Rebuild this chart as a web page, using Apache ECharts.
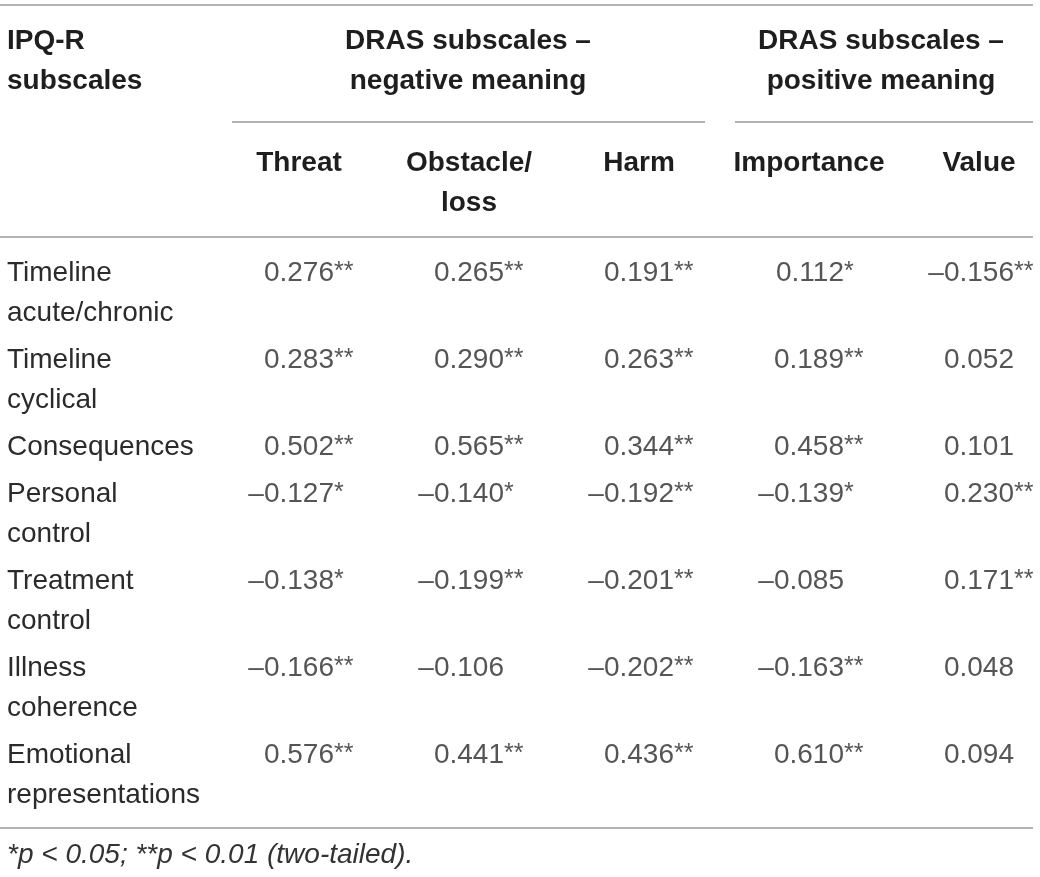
<!DOCTYPE html>
<html>
<head>
<meta charset="utf-8">
<script src="https://cdn.jsdelivr.net/npm/echarts@6/dist/echarts.min.js"></script>
<style>
  html, body { margin: 0; padding: 0; background: #fff; }
  #main { width: 1040px; height: 877px; }
</style>
</head>
<body>
<div id="main"></div>
<script>
// table content
var stubHeader = 'IPQ-R\nsubscales';
var groupHeaders = ['DRAS subscales –\nnegative meaning', 'DRAS subscales –\npositive meaning'];
var columns = ['Threat', 'Obstacle/\nloss', 'Harm', 'Importance', 'Value'];
var rowLabels = ['Timeline\nacute/chronic', 'Timeline\ncyclical', 'Consequences', 'Personal\ncontrol',
    'Treatment\ncontrol', 'Illness\ncoherence', 'Emotional\nrepresentations'];

var threat = [0.276, 0.283, 0.502, -0.127, -0.138, -0.166, 0.576];
var threatSig = ['**', '**', '**', '*', '*', '**', '**'];
var obstacle = [0.265, 0.290, 0.565, -0.140, -0.199, -0.106, 0.441];
var obstacleSig = ['**', '**', '**', '*', '**', '', '**'];
var harm = [0.191, 0.263, 0.344, -0.192, -0.201, -0.202, 0.436];
var harmSig = ['**', '**', '**', '**', '**', '**', '**'];
var importance = [0.112, 0.189, 0.458, -0.139, -0.085, -0.163, 0.610];
var importanceSig = ['*', '**', '**', '*', '', '**', '**'];
var valueCol = [-0.156, 0.052, 0.101, 0.230, 0.171, 0.048, 0.094];
var valueSig = ['**', '', '', '**', '**', '', ''];

var note = '*p < 0.05; **p < 0.01 (two-tailed).';

var cols = [threat, obstacle, harm, importance, valueCol];
var sigs = [threatSig, obstacleSig, harmSig, importanceSig, valueSig];

// row positions in "line" units: each text line = 1, small gap between rows
var ROW_GAP = 0.175, TOP_PAD = 0.4, BOTTOM_PAD = 0.325;
var rowStart = [];
var pos = TOP_PAD;
rowLabels.forEach(function(r, i) {
    rowStart.push(pos);
    pos += r.split('\n').length + (i < rowLabels.length - 1 ? ROW_GAP : 0);
});
var yMax = pos + BOTTOM_PAD;

function fmt(v) {
    return (v < 0 ? '–' : '') + Math.abs(v).toFixed(3);
}

var numData = [], sigData = [];
cols.forEach(function(c, ci) {
    c.forEach(function(v, ri) {
        numData.push([ci, rowStart[ri], fmt(v)]);
        if (sigs[ci][ri]) sigData.push([ci, rowStart[ri], sigs[ci][ri]]);
    });
});

var FONT = '"Helvetica Neue", Helvetica, "Liberation Sans", Arial, sans-serif';
var TXT = '#2b2b2b';
var RULE = '#9a9a9a';

var myChart = echarts.init(document.getElementById('main'));

var option = {
    backgroundColor: '#fff',
    animation: false,
    grid: { left: 214, top: 237, width: 850, height: 591, outerBoundsMode: 'none', containLabel: false },
    xAxis: {
        type: 'category',
        position: 'top',
        data: columns,
        axisLine: { show: false },
        axisTick: { show: false },
        splitLine: { show: false },
        axisLabel: {
            interval: 0,
            margin: 94,
            verticalAlign: 'top',
            lineHeight: 40,
            fontSize: 28,
            fontWeight: 'bold',
            fontFamily: FONT,
            color: '#1e1e1e'
        }
    },
    yAxis: {
        type: 'value',
        inverse: true,
        min: 0,
        max: yMax,
        axisLine: { show: false },
        axisTick: { show: false },
        splitLine: { show: false },
        axisLabel: {
            customValues: rowStart,
            formatter: function(v) {
                for (var i = 0; i < rowStart.length; i++) {
                    if (Math.abs(rowStart[i] - v) < 1e-6) return rowLabels[i];
                }
                return '';
            },
            margin: 207,
            align: 'left',
            verticalAlign: 'top',
            lineHeight: 40,
            fontSize: 28,
            fontFamily: FONT,
            color: TXT
        }
    },
    series: [{
        name: 'values',
        type: 'scatter',
        symbolSize: 1,
        itemStyle: { color: 'transparent' },
        data: numData,
        label: {
            show: true,
            position: 'inside',
            align: 'right',
            verticalAlign: 'top',
            offset: [35, 0],
            lineHeight: 40,
            fontSize: 28,
            fontFamily: FONT,
            color: TXT,
            formatter: function(p) { return p.value[2]; }
        }
    }, {
        name: 'significance',
        type: 'scatter',
        symbolSize: 1,
        itemStyle: { color: 'transparent' },
        data: sigData,
        label: {
            show: true,
            position: 'inside',
            align: 'left',
            verticalAlign: 'top',
            offset: [35, 0],
            lineHeight: 38,
            fontSize: 25,
            fontFamily: FONT,
            color: TXT,
            formatter: function(p) { return p.value[2]; }
        }
    }],
    graphic: [
        // rules
        { type: 'line', shape: { x1: 0, y1: 5, x2: 1033, y2: 5 }, style: { stroke: RULE, lineWidth: 1.6 } },
        { type: 'line', shape: { x1: 232, y1: 122, x2: 705, y2: 122 }, style: { stroke: RULE, lineWidth: 1.6 } },
        { type: 'line', shape: { x1: 735, y1: 122, x2: 1033, y2: 122 }, style: { stroke: RULE, lineWidth: 1.6 } },
        { type: 'line', shape: { x1: 0, y1: 237, x2: 1033, y2: 237 }, style: { stroke: RULE, lineWidth: 1.6 } },
        { type: 'line', shape: { x1: 0, y1: 828, x2: 1033, y2: 828 }, style: { stroke: RULE, lineWidth: 1.6 } },
        // header texts
        {
            type: 'text', x: 7, y: 21,
            style: { text: stubHeader, fontSize: 28, fontWeight: 'bold', fontFamily: FONT, fill: '#1e1e1e',
                align: 'left', verticalAlign: 'top', lineHeight: 40 }
        },
        {
            type: 'text', x: 468, y: 21,
            style: { text: groupHeaders[0], fontSize: 28, fontWeight: 'bold', fontFamily: FONT, fill: '#1e1e1e',
                align: 'center', verticalAlign: 'top', lineHeight: 40 }
        },
        {
            type: 'text', x: 881, y: 21,
            style: { text: groupHeaders[1], fontSize: 28, fontWeight: 'bold', fontFamily: FONT, fill: '#1e1e1e',
                align: 'center', verticalAlign: 'top', lineHeight: 40 }
        },
        // footnote
        {
            type: 'text', x: 7, y: 855,
            style: { text: note, fontSize: 28, fontStyle: 'italic', fontFamily: FONT, fill: '#333',
                align: 'left', verticalAlign: 'middle' }
        }
    ]
};

myChart.setOption(option);
</script>
</body>
</html>
